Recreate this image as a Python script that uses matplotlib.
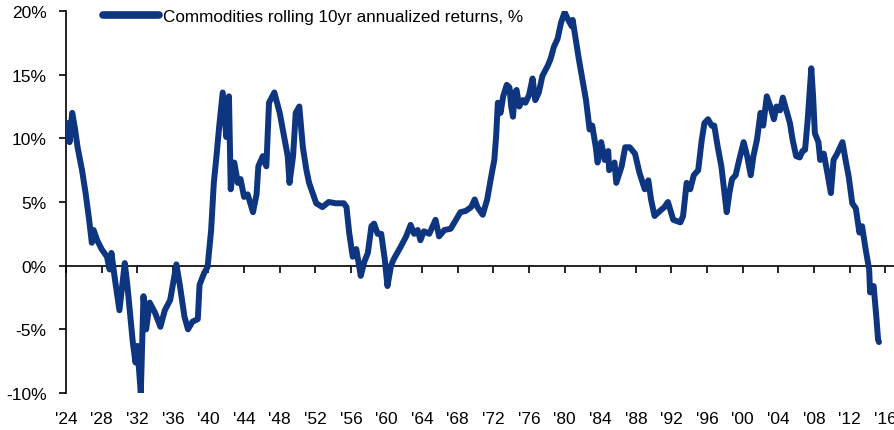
import matplotlib
matplotlib.use("Agg")
import matplotlib.pyplot as plt

plt.rcParams['font.family'] = ['Liberation Sans', 'DejaVu Sans']

NAVY = '#0d3580'

# rolling 10yr annualized return (%) at decimal years
years = [
    1924.0, 1924.2, 1924.4, 1924.7, 1925.0, 1925.3, 1925.8, 1926.2, 1926.6, 1926.9,
    1927.1, 1927.5, 1928.0, 1928.6, 1928.9, 1929.1, 1929.5, 1930.0, 1930.6, 1930.9,
    1931.5, 1931.8, 1932.0, 1932.4, 1932.7, 1933.0, 1933.4, 1934.0, 1934.6, 1935.1,
    1935.7, 1936.4, 1936.8, 1937.3, 1937.7, 1938.2, 1938.8, 1939.0, 1939.5, 1939.9,
    1940.3, 1940.6, 1940.9, 1941.2, 1941.6, 1942.0, 1942.3, 1942.5, 1942.9, 1943.3,
    1943.6, 1944.0, 1944.4, 1945.0, 1945.4, 1945.6, 1946.1, 1946.5, 1946.8, 1947.4,
    1948.0, 1948.5, 1948.9, 1949.1, 1949.5, 1949.8, 1950.2, 1950.6, 1951.0, 1951.3,
    1951.7, 1952.1, 1952.8, 1953.5, 1954.3, 1955.2, 1955.5, 1955.8, 1956.2, 1956.6,
    1957.1, 1957.5, 1957.9, 1958.3, 1958.6, 1959.0, 1959.4, 1959.8, 1960.1, 1960.5,
    1960.8, 1961.2, 1961.6, 1962.2, 1962.7, 1963.1, 1963.5, 1963.8, 1964.2, 1964.8,
    1965.5, 1965.9, 1966.5, 1967.2, 1967.8, 1968.3, 1968.9, 1969.5, 1969.9, 1970.2,
    1970.8, 1971.3, 1971.7, 1972.1, 1972.3, 1972.5, 1972.8, 1973.1, 1973.5, 1973.8,
    1974.0, 1974.2, 1974.4, 1974.6, 1974.9, 1975.3, 1975.6, 1976.0, 1976.4, 1976.7,
    1977.1, 1977.5, 1978.1, 1978.4, 1978.8, 1979.2, 1979.6, 1980.0, 1980.4, 1980.8,
    1980.9, 1981.3, 1981.6, 1982.0, 1982.4, 1982.8, 1983.1, 1983.5, 1983.7, 1984.1,
    1984.5, 1984.9, 1985.0, 1985.6, 1985.8, 1986.4, 1986.8, 1987.3, 1987.9, 1988.4,
    1989.0, 1989.4, 1989.7, 1990.1, 1990.7, 1991.2, 1991.6, 1992.2, 1993.0, 1993.3,
    1993.7, 1994.1, 1994.5, 1995.0, 1995.4, 1995.7, 1996.1, 1996.5, 1996.8, 1997.2,
    1997.6, 1997.9, 1998.2, 1998.5, 1998.8, 1999.2, 1999.6, 2000.1, 2000.5, 2000.9,
    2001.2, 2001.6, 2002.0, 2002.3, 2002.7, 2003.1, 2003.5, 2003.8, 2004.2, 2004.5,
    2004.9, 2005.3, 2005.6, 2006.0, 2006.4, 2006.7, 2007.0, 2007.3, 2007.5, 2007.7,
    2007.9, 2008.1, 2008.5, 2008.7, 2009.1, 2009.5, 2009.9, 2010.2, 2010.6, 2011.2,
    2011.6, 2011.9, 2012.3, 2012.7, 2013.1, 2013.4, 2013.8, 2014.2, 2014.3, 2014.7,
    2015.0, 2015.2, 2015.3,
]
returns = [
    10.7, 11.2, 9.7, 12.0, 10.8, 9.3, 7.5, 5.7, 3.6, 1.8,
    2.8, 2.0, 1.3, 0.7, -0.3, 1.0, -1.1, -3.5, 0.2, -1.6,
    -6.0, -7.6, -6.3, -10.0, -2.4, -5.0, -2.9, -3.7, -4.8, -3.5,
    -2.7, 0.1, -1.6, -4.0, -5.0, -4.4, -4.2, -1.5, -0.6, -0.1,
    2.8, 6.5, 8.6, 10.9, 13.6, 10.1, 13.3, 6.0, 8.1, 6.5,
    6.8, 5.4, 5.6, 4.2, 5.6, 7.8, 8.6, 7.8, 12.8, 13.6,
    12.0, 10.1, 8.6, 6.5, 8.6, 12.0, 12.5, 9.3, 7.5, 6.5,
    5.7, 4.9, 4.6, 5.0, 4.9, 4.9, 4.6, 2.6, 0.7, 1.3,
    -0.8, 0.3, 1.0, 3.1, 3.3, 2.5, 2.5, 0.5, -1.6, 0.0,
    0.5, 1.0, 1.5, 2.3, 3.2, 2.5, 2.8, 2.0, 2.7, 2.5,
    3.6, 2.3, 2.8, 2.9, 3.6, 4.2, 4.3, 4.6, 5.2, 4.6,
    4.0, 5.2, 6.8, 8.3, 10.1, 12.8, 12.0, 13.3, 14.2, 14.0,
    12.5, 11.7, 13.6, 13.8, 12.5, 13.0, 12.8, 13.4, 14.7, 13.0,
    13.6, 14.9, 15.7, 16.2, 17.2, 17.8, 19.1, 19.9, 19.3, 18.8,
    19.3, 17.5, 16.2, 14.6, 13.0, 10.7, 11.0, 9.3, 8.1, 9.7,
    8.3, 9.0, 7.5, 8.1, 6.5, 7.8, 9.3, 9.3, 8.8, 7.3,
    6.0, 6.7, 5.2, 3.9, 4.3, 4.6, 5.0, 3.6, 3.4, 3.9,
    6.5, 6.0, 7.1, 7.5, 9.9, 11.2, 11.5, 11.0, 11.0, 9.3,
    7.8, 6.0, 4.2, 5.7, 6.8, 7.1, 8.3, 9.7, 8.6, 7.1,
    8.6, 9.9, 12.0, 11.0, 13.3, 12.5, 11.5, 12.5, 12.2, 13.2,
    12.2, 11.2, 9.9, 8.6, 8.5, 9.0, 9.1, 11.5, 13.5, 15.5,
    13.3, 10.4, 9.7, 8.3, 8.8, 7.3, 5.7, 8.3, 8.8, 9.7,
    8.1, 7.0, 4.9, 4.5, 2.6, 3.1, 1.3, -0.3, -2.1, -1.6,
    -4.0, -5.8, -6.0,
]

x_ticks = list(range(1924, 2017, 4))
x_labels = ["'%02d" % (y % 100) for y in x_ticks]
y_ticks = [-10, -5, 0, 5, 10, 15, 20]
y_labels = ['-10%', '-5%', '0%', '5%', '10%', '15%', '20%']

fig = plt.figure(figsize=(8.95, 4.31), dpi=100)
ax = fig.add_axes([66 / 895, 37 / 431, 829 / 895, 382 / 431])

ax.plot(years, returns, color=NAVY, lw=4.3, solid_joinstyle='round',
        solid_capstyle='round',
        label='Commodities rolling 10yr annualized returns, %', zorder=3)

ax.set_xlim(1924, 2017.1)
ax.set_ylim(-10, 20)

for s in ['top', 'right', 'bottom']:
    ax.spines[s].set_visible(False)
ax.spines['left'].set_linewidth(1.2)

ax.set_yticks(y_ticks)
ax.set_yticklabels(y_labels)
ax.tick_params(axis='y', direction='out', length=5, width=1.2, pad=9,
               labelsize=12.5, colors='black')

# labels at the bottom, tick marks sit on the zero line
ax.set_xticks(x_ticks)
ax.set_xticklabels(x_labels)
ax.tick_params(axis='x', length=0, pad=13, labelsize=12.5)

zero = ax.secondary_xaxis(10 / 30)
zero.set_xticks(x_ticks)
zero.set_xticklabels([])
zero.spines['bottom'].set_linewidth(1.2)
zero.tick_params(direction='out', length=5, width=1.2)

leg = ax.legend(loc='upper left', bbox_to_anchor=(103 / 895, 1 - 10 / 431),
                bbox_transform=fig.transFigure, frameon=False, fontsize=12.3,
                handlelength=3.3, handletextpad=0.2, borderpad=0, borderaxespad=0)
for h in leg.get_lines():
    h.set_linewidth(5.5)

fig.savefig('out.png', dpi=100)
